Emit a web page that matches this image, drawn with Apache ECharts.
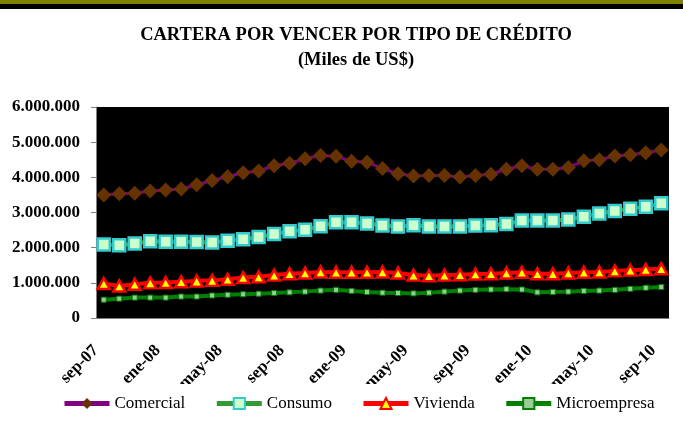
<!DOCTYPE html>
<html>
<head>
<meta charset="utf-8">
<script src="https://cdn.jsdelivr.net/npm/echarts@6/dist/echarts.min.js"></script>
<style>
  html, body { margin: 0; padding: 0; background: #fff; }
  #chart { width: 683px; height: 432px; }
</style>
</head>
<body>
<div id="chart"></div>
<script>
// meses sep-07 .. sep-10
var months = ['sep-07','oct-07','nov-07','dic-07','ene-08','feb-08','mar-08','abr-08','may-08','jun-08','jul-08','ago-08',
  'sep-08','oct-08','nov-08','dic-08','ene-09','feb-09','mar-09','abr-09','may-09','jun-09','jul-09','ago-09',
  'sep-09','oct-09','nov-09','dic-09','ene-10','feb-10','mar-10','abr-10','may-10','jun-10','jul-10','ago-10','sep-10'];

// valores en miles de US$
var comercial = [3500000,3530000,3550000,3610000,3640000,3670000,3790000,3910000,4020000,4130000,4180000,4330000,
  4400000,4530000,4620000,4600000,4460000,4430000,4250000,4100000,4040000,4050000,4050000,4010000,
  4050000,4090000,4230000,4330000,4230000,4230000,4280000,4470000,4500000,4610000,4640000,4700000,4780000];
var consumo = [2090000,2070000,2120000,2180000,2170000,2170000,2160000,2150000,2200000,2240000,2300000,2390000,
  2470000,2510000,2610000,2720000,2720000,2690000,2630000,2600000,2640000,2600000,2600000,2600000,
  2630000,2640000,2670000,2770000,2770000,2770000,2800000,2880000,2970000,3040000,3110000,3160000,3260000];
var vivienda = [980000,910000,960000,1000000,1010000,1030000,1050000,1070000,1100000,1150000,1170000,1220000,
  1260000,1280000,1310000,1300000,1300000,1300000,1310000,1280000,1220000,1200000,1220000,1230000,
  1250000,1260000,1280000,1300000,1260000,1260000,1280000,1300000,1310000,1340000,1360000,1380000,1400000];
var microempresa = [520000,550000,580000,580000,580000,610000,610000,640000,660000,675000,690000,710000,
  730000,750000,780000,800000,770000,740000,720000,710000,700000,720000,750000,780000,
  800000,810000,820000,810000,730000,740000,750000,770000,780000,800000,830000,860000,880000];

var yTicks = [0, 6000000, 1000000];

var serif = '"Liberation Serif", "DejaVu Serif", serif';

function fmtMiles(v) {
  return String(v).replace(/\B(?=(\d{3})+(?!\d))/g, '.');
}

var chart = echarts.init(document.getElementById('chart'));

chart.setOption({
  animation: false,
  backgroundColor: '#fff',
  graphic: [
    { type: 'rect', left: 0, top: 0, shape: { width: 683, height: 4 }, style: { fill: '#808000' } },
    { type: 'rect', left: 0, top: 4, shape: { width: 683, height: 5 }, style: { fill: '#000' } },
    // Excel recorta las etiquetas rotadas sobre la leyenda
    { type: 'rect', left: 0, top: 384, z: 3, shape: { width: 683, height: 48 }, style: { fill: '#fff' } }
  ],
  title: {
    text: 'CARTERA POR VENCER POR TIPO DE CRÉDITO\n(Miles de US$)',
    left: 351,
    top: 18,
    textAlign: 'center',
    textStyle: { fontFamily: serif, fontWeight: 'bold', fontSize: 18.5, lineHeight: 25, color: '#000' }
  },
  legend: {
    top: 390,
    left: 57,
    itemWidth: 45,
    itemHeight: 14,
    itemGap: 29,
    z: 4,
    lineStyle: { width: 5 },
    textStyle: { fontFamily: serif, fontSize: 17, color: '#000' },
    data: ['Comercial', 'Consumo', 'Vivienda', 'Microempresa']
  },
  grid: { left: 96, right: 14, top: 107, bottom: 114, show: true, backgroundColor: '#000', borderWidth: 0 },
  xAxis: [{
    type: 'category',
    data: months,
    boundaryGap: true,
    axisLine: { lineStyle: { color: '#808080', width: 1 } },
    axisTick: { interval: 3, length: 5, lineStyle: { color: '#808080' } },
    axisLabel: { show: false }
  }, {
    type: 'value',
    min: 0,
    max: months.length,
    interval: 4,
    position: 'bottom',
    axisLine: { show: false },
    axisTick: { show: false },
    splitLine: { show: false },
    axisLabel: {
      rotate: 45,
      margin: 30,
      fontFamily: serif,
      fontWeight: 'bold',
      fontSize: 17,
      color: '#000',
      showMaxLabel: false,
      formatter: function (v) { return (v % 4 === 0 && v < months.length) ? months[v] : ''; }
    }
  }],
  yAxis: {
    type: 'value',
    min: yTicks[0],
    max: yTicks[1],
    interval: yTicks[2],
    axisLine: { show: true, lineStyle: { color: '#808080' } },
    axisTick: { show: true, length: 5, lineStyle: { color: '#808080' } },
    splitLine: { show: false },
    axisLabel: {
      margin: 16,
      fontFamily: serif,
      fontWeight: 'bold',
      fontSize: 17,
      color: '#000',
      formatter: fmtMiles
    }
  },
  series: [{
    name: 'Comercial',
    type: 'line',
    data: comercial,
    showAllSymbol: true,
    symbol: 'diamond',
    symbolSize: 15,
    lineStyle: { color: '#800080', width: 3 },
    itemStyle: { color: '#663300', borderWidth: 0 }
  }, {
    name: 'Consumo',
    type: 'line',
    data: consumo,
    showAllSymbol: true,
    symbol: 'rect',
    symbolSize: 12,
    lineStyle: { color: '#339933', width: 4 },
    itemStyle: { color: '#CCFFCC', borderColor: '#33CCCC', borderWidth: 2.5 }
  }, {
    name: 'Vivienda',
    type: 'line',
    data: vivienda,
    showAllSymbol: true,
    symbol: 'triangle',
    symbolSize: [12, 11],
    lineStyle: { color: '#FF0000', width: 4 },
    itemStyle: { color: '#FFFF00', borderColor: '#FF0000', borderWidth: 2.5 }
  }, {
    name: 'Microempresa',
    type: 'line',
    data: microempresa,
    showAllSymbol: true,
    symbol: 'rect',
    symbolSize: 5,
    lineStyle: { color: '#008000', width: 4 },
    itemStyle: { color: '#99CC99', borderColor: '#008000', borderWidth: 1 }
  }]
});
</script>
</body>
</html>
